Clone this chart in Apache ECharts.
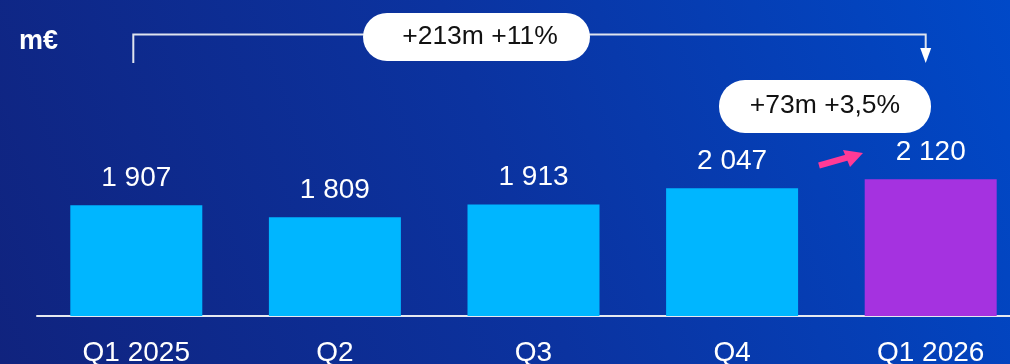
<!DOCTYPE html>
<html>
<head>
<meta charset="utf-8">
<script src="https://cdn.jsdelivr.net/npm/echarts@6/dist/echarts.min.js"></script>
<style>
  html, body { margin: 0; padding: 0; width: 1010px; height: 364px; overflow: hidden; }
  #chart { width: 1010px; height: 364px;
    background: linear-gradient(70deg, #10237e 0%, #0b33a0 50%, #0049c8 100%); }
</style>
</head>
<body>
<div id="chart"></div>
<script>
const categories = ['Q1 2025', 'Q2', 'Q3', 'Q4', 'Q1 2026'];
const values = [1907, 1809, 1913, 2047, 2120];
const barColors = ['#00b6ff', '#00b6ff', '#00b6ff', '#00b6ff', '#a532e0'];
const unitLabel = 'm€';
const totalChangeText = '+213m +11%';
const lastChangeText = '+73m +3,5%';

const FONT = '"Liberation Sans", Arial, sans-serif';
const fmt = v => String(v).replace(/\B(?=(\d{3})+(?!\d))/g, ' ');

const chart = echarts.init(document.getElementById('chart'), null, { renderer: 'canvas' });
const option = {
  backgroundColor: 'transparent',
  animation: false,
  grid: { left: 37, width: 993, top: 72, height: 244, containLabel: false, outerBoundsMode: 'none' },
  xAxis: {
    type: 'category',
    data: categories,
    axisLine: { show: true, lineStyle: { color: '#e6e9f0', width: 2 } },
    axisTick: { show: false },
    axisLabel: { color: '#ffffff', fontSize: 28, fontFamily: FONT, margin: 23 }
  },
  yAxis: {
    type: 'value', min: 1000, max: 3000, show: false, splitLine: { show: false }
  },
  series: [{
    type: 'bar',
    barWidth: 132,
    data: values.map((v, i) => ({ value: v, itemStyle: { color: barColors[i] } })),
    label: {
      show: true, position: 'top', distance: 13,
      color: '#ffffff', fontSize: 28, fontFamily: FONT,
      formatter: p => fmt(p.value)
    }
  }]
};
chart.setOption(option);

const x0 = chart.convertToPixel({ xAxisIndex: 0 }, categories[0]) - 3;
const x4 = chart.convertToPixel({ xAxisIndex: 0 }, categories[4]) - 5;

chart.setOption({
  graphic: [
    { type: 'text', left: 19, top: 28,
      style: { text: unitLabel, fill: '#ffffff', font: 'bold 27px ' + FONT } },
    { type: 'polyline', z: 10,
      shape: { points: [[x0, 63], [x0, 34.5], [x4, 34.5], [x4, 49]] },
      style: { stroke: '#dfe4ee', lineWidth: 2, fill: null } },
    { type: 'polygon', z: 10,
      shape: { points: [[x4 - 5.5, 48], [x4 + 5.5, 48], [x4, 63]] },
      style: { fill: '#ffffff' } },
    { type: 'rect', z: 20,
      shape: { x: 363, y: 13, width: 227, height: 48, r: 24 },
      style: { fill: '#ffffff' } },
    { type: 'text', z: 21, x: 480, y: 37,
      style: { text: totalChangeText, fill: '#111111', font: '26.5px ' + FONT,
        textAlign: 'center', textVerticalAlign: 'middle' } },
    { type: 'rect', z: 20,
      shape: { x: 719, y: 80, width: 212, height: 53, r: 26 },
      style: { fill: '#ffffff' } },
    { type: 'text', z: 21, x: 825, y: 106,
      style: { text: lastChangeText, fill: '#111111', font: '26.5px ' + FONT,
        textAlign: 'center', textVerticalAlign: 'middle' } },
    { type: 'line', z: 20,
      shape: { x1: 819, y1: 165.5, x2: 849, y2: 157 },
      style: { stroke: '#ff3a96', lineWidth: 6 } },
    { type: 'polygon', z: 20,
      shape: { points: [[843, 150], [863, 153], [850, 167]] },
      style: { fill: '#ff3a96' } }
  ]
});
</script>
</body>
</html>
